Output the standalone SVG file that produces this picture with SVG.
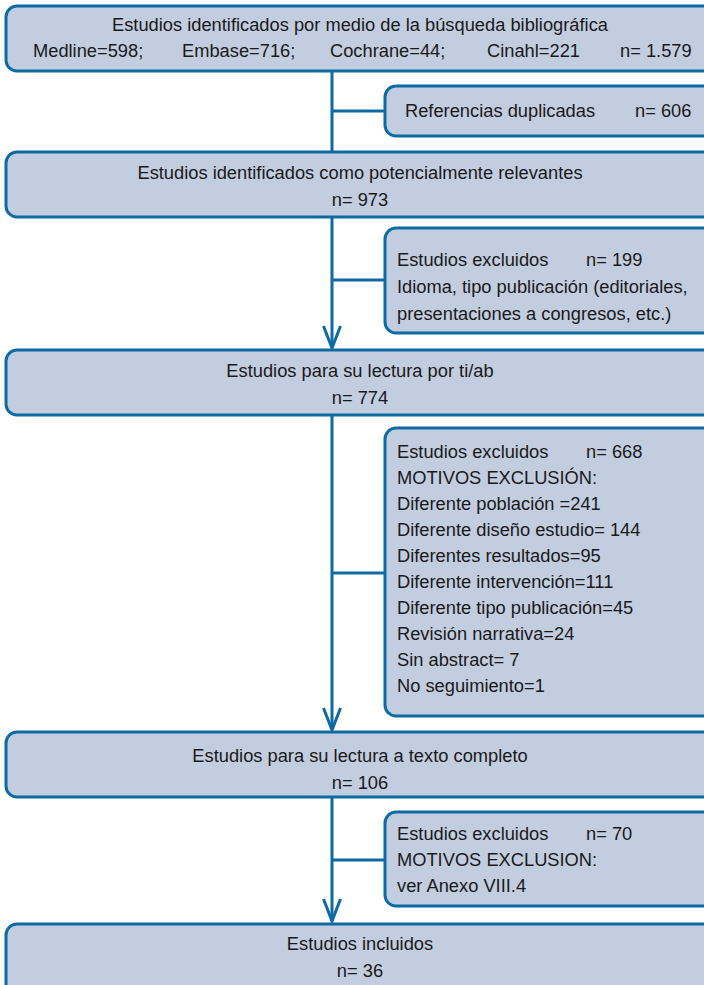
<svg xmlns="http://www.w3.org/2000/svg" width="704" height="985" viewBox="0 0 704 985">
<style>
.box{fill:#c2cde0;stroke:#0d6aa3;stroke-width:3}
.ln{stroke:#0d6aa3;stroke-width:3;fill:none}
text{font-family:"Liberation Sans",Arial,sans-serif;font-size:18.3px;fill:#1a1a1a}
.c{text-anchor:middle}
</style>
<g id="connectors">
<line class="ln" x1="332" y1="71" x2="332" y2="152"/>
<line class="ln" x1="332" y1="111" x2="385" y2="111"/>
<line class="ln" x1="332" y1="217" x2="332" y2="348"/>
<line class="ln" x1="332" y1="280" x2="385" y2="280"/>
<polyline class="ln" points="323.5,326 332,348 340.5,326"/>
<line class="ln" x1="332" y1="415" x2="332" y2="730"/>
<line class="ln" x1="332" y1="573" x2="385" y2="573"/>
<polyline class="ln" points="323.5,708 332,730 340.5,708"/>
<line class="ln" x1="332" y1="797" x2="332" y2="921"/>
<line class="ln" x1="332" y1="860" x2="385" y2="860"/>
<polyline class="ln" points="323.5,899 332,921 340.5,899"/>
</g>
<g id="n1"><rect class="box" x="6" y="6" width="720" height="65" rx="11"/>
<text class="c" x="360" y="31">Estudios identificados por medio de la búsqueda bibliográfica</text>
<text x="33" y="57">Medline=598;</text><text x="182" y="57">Embase=716;</text><text x="330" y="57">Cochrane=44;</text><text x="487" y="57">Cinahl=221</text><text x="620" y="57">n= 1.579</text></g>
<g id="n2"><rect class="box" x="385" y="86" width="340" height="50" rx="11"/>
<text x="405" y="117">Referencias duplicadas</text><text x="635" y="117">n= 606</text></g>
<g id="n3"><rect class="box" x="6" y="152" width="720" height="65" rx="11"/>
<text class="c" x="360" y="179">Estudios identificados como potencialmente relevantes</text>
<text class="c" x="360" y="206">n= 973</text></g>
<g id="n4"><rect class="box" x="385" y="228" width="340" height="105" rx="11"/>
<text x="397" y="266">Estudios excluidos</text><text x="586" y="266">n= 199</text>
<text x="397" y="293">Idioma, tipo publicación (editoriales,</text>
<text x="397" y="320">presentaciones a congresos, etc.)</text></g>
<g id="n5"><rect class="box" x="6" y="350" width="720" height="65" rx="11"/>
<text class="c" x="360" y="377">Estudios para su lectura por ti/ab</text>
<text class="c" x="360" y="404">n= 774</text></g>
<g id="n6"><rect class="box" x="385" y="428" width="340" height="288" rx="11"/>
<text x="397" y="458">Estudios excluidos</text><text x="586" y="458">n= 668</text>
<text x="397" y="484">MOTIVOS EXCLUSIÓN:</text>
<text x="397" y="510">Diferente población =241</text>
<text x="397" y="536">Diferente diseño estudio= 144</text>
<text x="397" y="562">Diferentes resultados=95</text>
<text x="397" y="588">Diferente intervención=111</text>
<text x="397" y="614">Diferente tipo publicación=45</text>
<text x="397" y="640">Revisión narrativa=24</text>
<text x="397" y="666">Sin abstract= 7</text>
<text x="397" y="692">No seguimiento=1</text></g>
<g id="n7"><rect class="box" x="6" y="732" width="720" height="65" rx="11"/>
<text class="c" x="360" y="762">Estudios para su lectura a texto completo</text>
<text class="c" x="360" y="789">n= 106</text></g>
<g id="n8"><rect class="box" x="385" y="812" width="340" height="94" rx="11"/>
<text x="397" y="840">Estudios excluidos</text><text x="586" y="840">n= 70</text>
<text x="397" y="866">MOTIVOS EXCLUSION:</text>
<text x="397" y="892">ver Anexo VIII.4</text></g>
<g id="n9"><rect class="box" x="6" y="924" width="720" height="80" rx="11"/>
<text class="c" x="360" y="950">Estudios incluidos</text>
<text class="c" x="360" y="977">n= 36</text></g>
</svg>
